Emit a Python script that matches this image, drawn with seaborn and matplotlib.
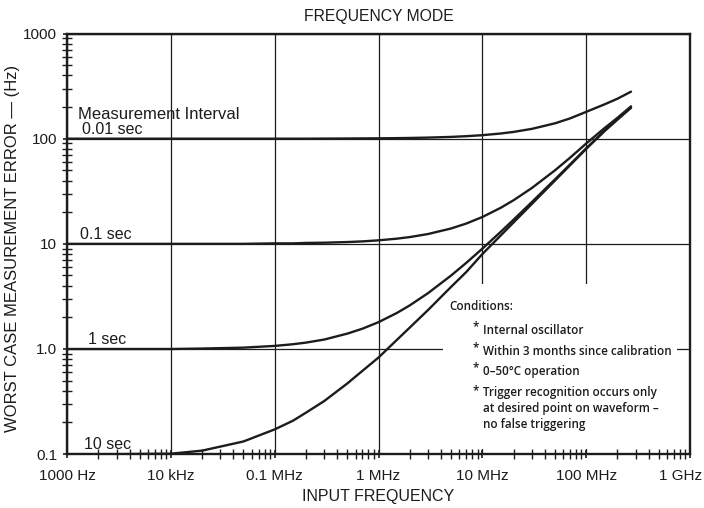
import numpy as np
import pandas as pd
import matplotlib
matplotlib.use("Agg")
import matplotlib.pyplot as plt
import matplotlib.ticker as mticker
from matplotlib.patches import Rectangle
from matplotlib.transforms import ScaledTranslation
import seaborn as sns

# Input frequency (Hz) at which each curve is read
freq_hz = [1e3, 3e3, 1e4, 2e4, 5e4, 1e5, 1.5e5, 2e5, 3e5, 5e5, 7e5,
           1e6, 1.5e6, 2e6, 3e6, 5e6, 7e6, 1e7, 1.5e7, 2e7, 3e7, 5e7, 7e7,
           1e8, 1.5e8, 2e8, 2.7e8]

# Worst-case measurement error (Hz) for each measurement interval
err_10ms = [100, 100, 100, 100, 100, 100, 100, 100, 100.2, 100.4, 100.6,
            100.8, 101.2, 101.6, 102.4, 104, 105.6, 108, 112, 116, 124, 140, 156,
            180, 212, 240, 280]
err_100ms = [10, 10, 10, 10, 10, 10.1, 10.1, 10.2, 10.25, 10.4, 10.55,
             10.8, 11.2, 11.6, 12.4, 14, 15.6, 18, 22, 26, 34, 50, 66,
             90, 126, 158, 203]
err_1s = [1, 1, 1, 1.01, 1.03, 1.07, 1.11, 1.15, 1.23, 1.4, 1.56,
          1.8, 2.2, 2.6, 3.4, 5, 6.6, 9, 13, 17, 25, 41, 57,
          81, 119, 153, 198]
err_10s = [0.1, 0.1, 0.101, 0.108, 0.132, 0.172, 0.208, 0.248, 0.32, 0.47, 0.62,
           0.83, 1.22, 1.6, 2.35, 3.9, 5.4, 8.0, 12, 16, 24, 40, 56,
           80, 118, 152, 197]

intervals = ["0.01 sec", "0.1 sec", "1 sec", "10 sec"]
series = [err_10ms, err_100ms, err_1s, err_10s]

x_ticks = [1e3, 1e4, 1e5, 1e6, 1e7, 1e8, 1e9]
x_labels = ["1000 Hz", "10 kHz", "0.1 MHz", "1 MHz", "10 MHz", "100 MHz", "1 GHz"]
y_ticks = [0.1, 1, 10, 100, 1000]
y_labels = ["0.1", "1.0", "10", "100", "1000"]

conditions = [
    "Internal oscillator",
    "Within 3 months since calibration",
    "0\u201350\u00b0C operation",
    "Trigger recognition occurs only\nat desired point on waveform \u2013\nno false triggering",
]

df = pd.concat(
    [pd.DataFrame({"freq": freq_hz, "error": vals, "interval": name})
     for name, vals in zip(intervals, series)],
    ignore_index=True,
)

sns.set_theme(style="white")
plt.rcParams["font.family"] = ["Liberation Sans", "DejaVu Sans"]
ink = "#1c1c1c"

fig = plt.figure(figsize=(7.04, 5.08), dpi=100)
ax = fig.add_axes([0.0952, 0.106, 0.885, 0.828])

ax.set_xscale("log")
ax.set_yscale("log")
ax.set_xlim(1e3, 1e9)
ax.set_ylim(0.1, 1000)

ax.grid(True, which="major", color=ink, lw=0.9, zorder=1)
ax.set_axisbelow(True)

sns.lineplot(data=df, x="freq", y="error", hue="interval",
             palette=[ink] * 4, legend=False, estimator=None, sort=False,
             lw=1.7, ax=ax, zorder=4)

# white area behind the conditions note
ax.add_patch(Rectangle((0.603, 0.013), 0.376, 0.391, transform=ax.transAxes,
                       facecolor="white", edgecolor="none", zorder=2))

for side in ["left", "bottom", "top", "right"]:
    ax.spines[side].set_color(ink)
    ax.spines[side].set_linewidth(1.7)
    ax.spines[side].set_zorder(5)

ax.xaxis.set_major_locator(mticker.FixedLocator(x_ticks))
ax.xaxis.set_major_formatter(mticker.FixedFormatter(x_labels))
ax.yaxis.set_major_locator(mticker.FixedLocator(y_ticks))
ax.yaxis.set_major_formatter(mticker.FixedFormatter(y_labels))
ax.xaxis.set_minor_locator(mticker.LogLocator(base=10, subs=np.arange(2, 10), numticks=20))
ax.yaxis.set_minor_locator(mticker.LogLocator(base=10, subs=np.arange(2, 10), numticks=20))
ax.xaxis.set_minor_formatter(mticker.NullFormatter())
ax.yaxis.set_minor_formatter(mticker.NullFormatter())

ax.tick_params(axis="both", which="major", direction="inout", length=6, width=1.2,
               colors=ink, labelsize=11, pad=8)
ax.tick_params(axis="both", which="minor", direction="inout", length=7, width=1.0,
               colors=ink)
ax.tick_params(axis="x", which="both", bottom=True, top=False)
ax.tick_params(axis="y", which="both", left=True, right=False)
ax.tick_params(axis="y", which="major", pad=4)

ax.set_title("FREQUENCY MODE", fontsize=11.3, color=ink, pad=9)
ax.set_xlabel("INPUT FREQUENCY", fontsize=11.5, color=ink, labelpad=4)
ax.set_ylabel("WORST CASE MEASUREMENT ERROR \u2014 (Hz)", fontsize=12, color=ink)
ax.yaxis.set_label_coords(-0.076, 0.49)

# keep the last frequency label inside the figure
fig.canvas.draw()
last = ax.get_xticklabels()[-1]
last.set_transform(last.get_transform() + ScaledTranslation(-0.09, 0, fig.dpi_scale_trans))

# interval labels along the left edge
lab_kw = dict(fontsize=11.5, color=ink, va="bottom", ha="left", zorder=6)
ax.text(1.27e3, 143, "Measurement Interval", fontsize=12, color=ink,
        va="bottom", ha="left", zorder=6)
ax.text(1.4e3, 104, "0.01 sec", **lab_kw)
ax.text(1.33e3, 10.4, "0.1 sec", **lab_kw)
ax.text(1.6e3, 1.04, "1 sec", **lab_kw)
ax.text(1.47e3, 0.104, "10 sec", **lab_kw)

# conditions note
note_kw = dict(transform=ax.transAxes, fontsize=8.4, family=["Open Sans", "DejaVu Sans"],
               fontweight="semibold", color=ink, ha="left", zorder=6)
ax.text(0.614, 0.352, "Conditions:", va="center", **note_kw)
bullet_y = [0.295, 0.245, 0.197, 0.143]
for yy, txt in zip(bullet_y, conditions):
    ax.text(0.651, yy + 0.008, "*", va="center", **note_kw)
    if "\n" in txt:
        ax.text(0.668, yy + 0.019, txt, va="top", linespacing=1.3, **note_kw)
    else:
        ax.text(0.668, yy, txt, va="center", **note_kw)

fig.savefig("out.png", dpi=100, facecolor="white")
